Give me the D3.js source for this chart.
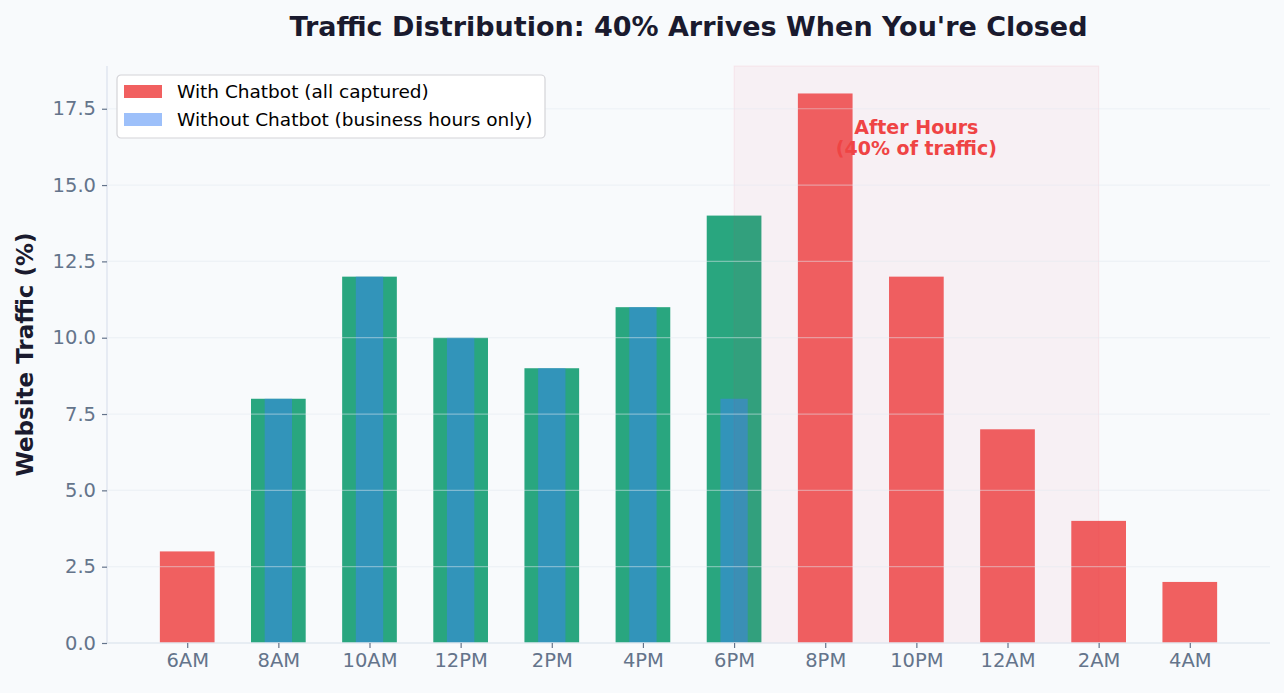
<!DOCTYPE html>
<html>
<head>
<meta charset="utf-8">
<script src="https://cdn.jsdelivr.net/npm/d3@7"></script>
<style>
  body { margin: 0; background: #f8fafc; }
  svg { display: block; font-family: "DejaVu Sans", sans-serif; }
</style>
</head>
<body>
<svg id="chart" width="1284" height="693"></svg>
<script>
const hours = ["6AM", "8AM", "10AM", "12PM", "2PM", "4PM", "6PM", "8PM", "10PM", "12AM", "2AM", "4AM"];
const withChatbot = [3, 8, 12, 10, 9, 11, 14, 18, 12, 7, 4, 2];
const withoutChatbot = [0, 8, 12, 10, 9, 11, 8, 0, 0, 0, 0, 0];
const businessHours = ["8AM", "10AM", "12PM", "2PM", "4PM", "6PM"];
const yTicks = [0, 2.5, 5, 7.5, 10, 12.5, 15, 17.5];
const afterHoursSpan = [6, 10];

const margin = { left: 107, right: 14, top: 66, bottom: 50 };
const width = 1284, height = 693;

const svg = d3.select("#chart");

svg.append("rect")
  .attr("width", width)
  .attr("height", height)
  .attr("fill", "#f8fafc");

// x is a linear index scale like matplotlib's bar positions
const x = d3.scaleLinear()
  .domain([-0.88, hours.length - 1 + 0.88])
  .range([margin.left, width - margin.right]);

const y = d3.scaleLinear()
  .domain([0, d3.max(withChatbot) * 1.05])
  .range([height - margin.bottom, margin.top]);

const barWidth = 0.6;
const narrowWidth = 0.3;

// main bars
svg.append("g")
  .selectAll("rect")
  .data(withChatbot)
  .join("rect")
  .attr("x", (d, i) => x(i - barWidth / 2))
  .attr("width", x(barWidth) - x(0))
  .attr("y", d => y(d))
  .attr("height", d => y(0) - y(d))
  .attr("fill", (d, i) => businessHours.includes(hours[i]) ? "#059669" : "#ef4444")
  .attr("fill-opacity", 0.85);

// without chatbot bars
svg.append("g")
  .selectAll("rect")
  .data(withoutChatbot.map((v, i) => ({ v, i })).filter(d => d.v > 0))
  .join("rect")
  .attr("x", d => x(d.i - narrowWidth / 2))
  .attr("width", x(narrowWidth) - x(0))
  .attr("y", d => y(d.v))
  .attr("height", d => y(0) - y(d.v))
  .attr("fill", "#3b82f6")
  .attr("fill-opacity", 0.5);

// after-hours span
svg.append("rect")
  .attr("x", x(afterHoursSpan[0]))
  .attr("width", x(afterHoursSpan[1]) - x(afterHoursSpan[0]))
  .attr("y", margin.top)
  .attr("height", y(0) - margin.top)
  .attr("fill", "#f43f5e")
  .attr("fill-opacity", 0.05)
  .attr("stroke", "#f43f5e")
  .attr("stroke-opacity", 0.08);

// grid
svg.append("g")
  .selectAll("line")
  .data(yTicks.slice(1))
  .join("line")
  .attr("x1", margin.left)
  .attr("x2", width - margin.right)
  .attr("y1", d => y(d))
  .attr("y2", d => y(d))
  .attr("stroke", "#e2e8f0")
  .attr("stroke-opacity", 0.45)
  .attr("stroke-width", 1.2);

// axes
const xAxis = svg.append("g")
  .attr("transform", `translate(0,${y(0)})`)
  .call(d3.axisBottom(x).tickValues(d3.range(hours.length)).tickFormat(i => hours[i]).tickSize(5).tickPadding(5));

const yAxis = svg.append("g")
  .attr("transform", `translate(${margin.left},0)`)
  .call(d3.axisLeft(y).tickValues(yTicks).tickFormat(d3.format(".1f")).tickSize(5).tickPadding(6));

[xAxis, yAxis].forEach(g => {
  g.select(".domain").attr("stroke", "#e2e8f0").attr("stroke-width", 1.6);
  g.selectAll(".tick line").attr("stroke", "#64748b").attr("stroke-width", 1.2);
  g.selectAll(".tick text")
    .attr("fill", "#64748b")
    .style("font-size", "19.5px")
    .style("font-family", "DejaVu Sans");
});
xAxis.select(".domain").attr("d", `M${margin.left},0H${width - margin.right}`);
yAxis.select(".domain").attr("d", `M0,${y(0)}V${margin.top}`);

// labels
svg.append("text")
  .attr("x", (margin.left + width - margin.right) / 2)
  .attr("y", 36)
  .attr("text-anchor", "middle")
  .attr("fill", "#1a1a2e")
  .style("font-size", "27px")
  .style("font-weight", "bold")
  .text("Traffic Distribution: 40% Arrives When You're Closed");

svg.append("text")
  .attr("transform", `translate(33,${(margin.top + y(0)) / 2}) rotate(-90)`)
  .attr("text-anchor", "middle")
  .attr("fill", "#1a1a2e")
  .style("font-size", "23px")
  .style("font-weight", "bold")
  .text("Website Traffic (%)");

// annotation
const note = svg.append("text")
  .attr("x", x(8))
  .attr("y", y(16.5))
  .attr("text-anchor", "middle")
  .attr("fill", "#ef4444")
  .style("font-size", "19px")
  .style("font-weight", "bold");
note.append("tspan").attr("x", x(8)).attr("dy", "-0.3em").text("After Hours");
note.append("tspan").attr("x", x(8)).attr("dy", "1.15em").text("(40% of traffic)");

// legend
const legend = svg.append("g").attr("transform", "translate(117,75)");
legend.append("rect")
  .attr("width", 428)
  .attr("height", 63)
  .attr("rx", 4)
  .attr("fill", "#ffffff")
  .attr("stroke", "#d4d4d8")
  .attr("stroke-width", 1.2);

const legendItems = [
  { label: "With Chatbot (all captured)", color: "#ef4444", opacity: 0.85 },
  { label: "Without Chatbot (business hours only)", color: "#3b82f6", opacity: 0.5 }
];
legendItems.forEach((item, i) => {
  const row = legend.append("g").attr("transform", `translate(7,${10 + i * 28})`);
  row.append("rect")
    .attr("width", 38)
    .attr("height", 13)
    .attr("fill", item.color)
    .attr("fill-opacity", item.opacity);
  row.append("text")
    .attr("x", 53)
    .attr("y", 13)
    .attr("fill", "#000")
    .style("font-size", "18.5px")
    .text(item.label);
});
</script>
</body>
</html>
